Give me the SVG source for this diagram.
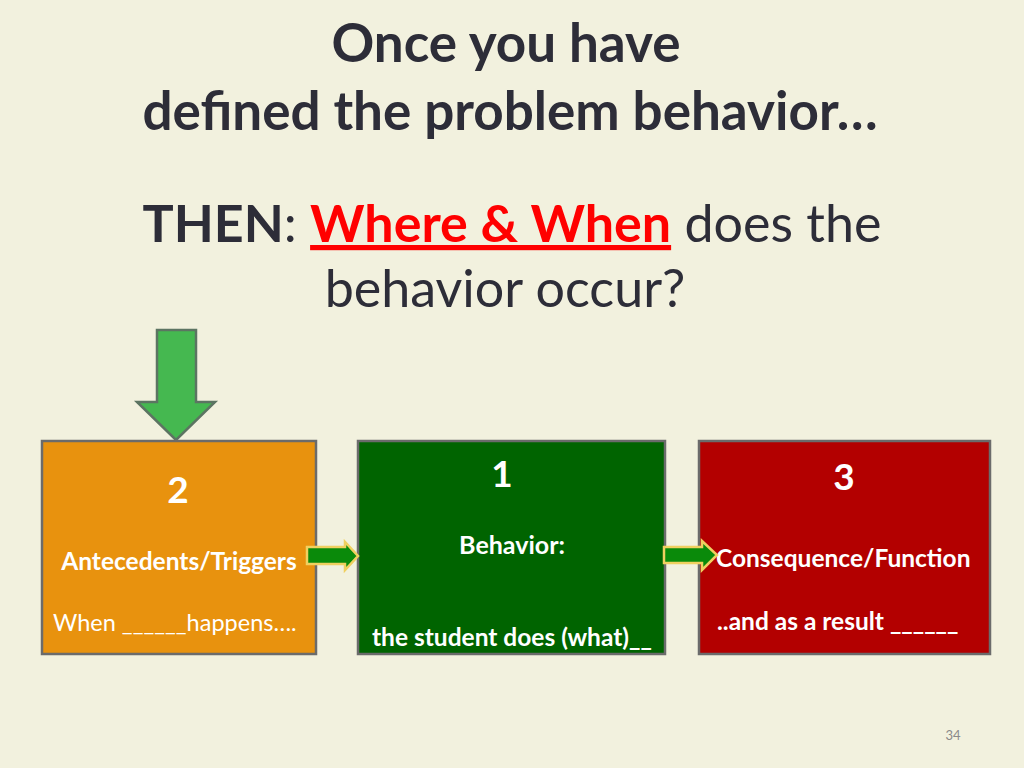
<svg xmlns="http://www.w3.org/2000/svg" width="1024" height="768" viewBox="0 0 1024 768">
<style>
.t{font-family:Lato,"Open Sans","Liberation Sans",sans-serif;}
.title{font-size:53px;font-weight:bold;fill:#2d2d38;text-anchor:middle;}
.sub{font-size:52px;fill:#2d2d38;}
.box{stroke:#6b6b6b;stroke-width:2.5;}
.w{fill:#ffffff;}
.num{font-size:37px;font-weight:bold;text-anchor:middle;}
.lbl{font-size:24.5px;font-weight:bold;}
.conn{fill:#0a8a0a;stroke:#f0d060;stroke-width:2.5;stroke-linejoin:miter;}
</style>
<rect width="1024" height="768" fill="#f2f1de"/>
<g id="title">
<text class="t title" x="506" y="62">Once you have</text>
<text class="t title" x="510" y="130">defined the problem behavior…</text>
</g>
<g id="subtitle">
<text class="t sub" x="512" y="242" text-anchor="middle"><tspan font-weight="bold">THEN</tspan>: <tspan font-weight="bold" fill="#ff0000" text-decoration="underline">Where &amp; When</tspan> does the</text>
<text class="t sub" x="505" y="307" text-anchor="middle">behavior occur?</text>
</g>
<g id="down-arrow">
<path d="M157,330 L196,330 L196,402 L215,402 L176,440 L137,402 L157,402 Z" fill="#45b850" stroke="#5c7462" stroke-width="2.5"/>
</g>
<g id="node-antecedents">
<rect class="box" x="42" y="441" width="274" height="213" fill="#e8920e"/>
<text class="t num w" x="178" y="503">2</text>
<text class="t lbl w" x="179" y="570" text-anchor="middle">Antecedents/Triggers</text>
<text class="t w" x="53" y="631" font-size="23.5">When ______happens….</text>
</g>
<g id="node-behavior">
<rect class="box" x="358" y="441" width="307" height="213" fill="#006400"/>
<text class="t num w" x="502" y="487">1</text>
<text class="t w" x="512" y="554" text-anchor="middle" font-size="25" font-weight="bold">Behavior:</text>
<text class="t lbl w" x="372" y="646">the student does (what)__</text>
</g>
<g id="node-consequence">
<rect class="box" x="699" y="441" width="291" height="213" fill="#b30000"/>
<text class="t num w" x="844" y="490">3</text>
<text class="t lbl w" x="716" y="567">Consequence/Function</text>
<text class="t lbl w" x="717" y="630">..and as a result ______</text>
</g>
<g id="connectors">
<path class="conn" d="M307,547 L345,547 L345,542 L358,556 L345,570 L345,564 L307,564 Z"/>
<path class="conn" d="M664,547 L702,547 L702,541 L717,555 L702,570 L702,563 L664,563 Z"/>
</g>
<text class="t" x="953" y="740" font-size="13" fill="#8a8a8a" text-anchor="middle">34</text>
</svg>
